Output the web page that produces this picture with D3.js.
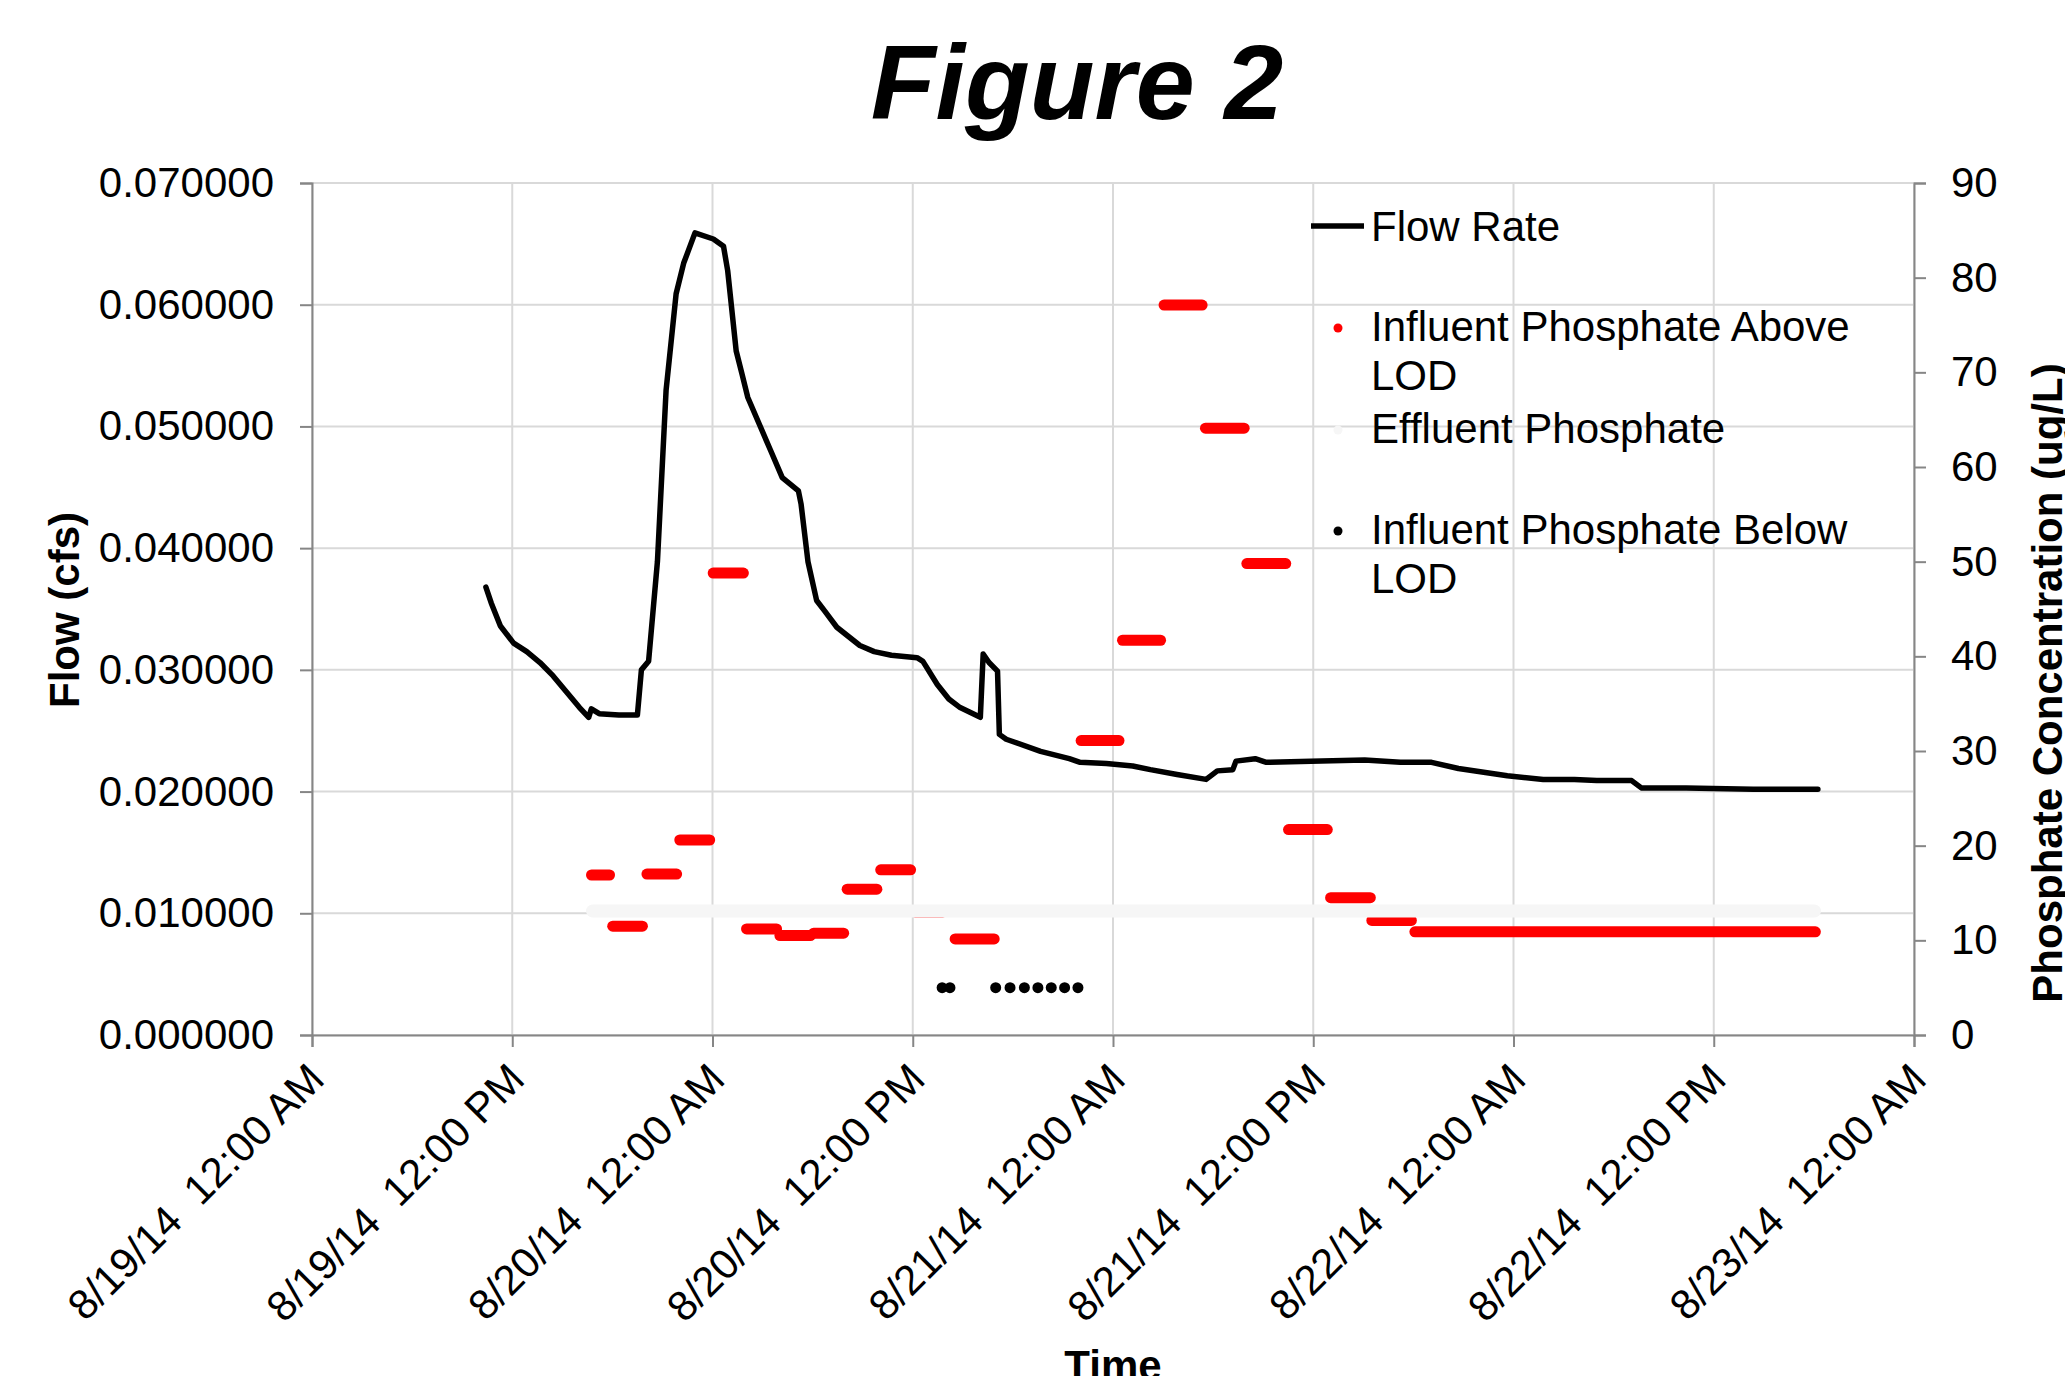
<!DOCTYPE html>
<html>
<head>
<meta charset="utf-8">
<title>Figure 2</title>
<script src="https://cdn.jsdelivr.net/npm/d3@7"></script>
<style>
  body { margin: 0; background: #fff; }
  text { font-family: "Liberation Sans", Arial, sans-serif; }
</style>
</head>
<body>
<div id="chart"></div>
<script>
// Flow rate record (hours after 8/19/14 12:00 AM, cfs)
const flowHours = [10.42, 10.74, 11.29, 12.08, 12.87, 13.66, 14.45, 15.24, 16.03, 16.58, 16.74, 17.21, 18.39, 19.5,
  19.74, 20.17, 20.7, 21.22, 21.82, 22.27, 22.95, 24.05, 24.66, 24.91, 25.42, 25.77, 26.11, 26.8, 27.49, 28.18,
  29.15, 29.31, 29.72, 30.24, 30.74, 31.45, 32.83, 33.69, 34.72, 36.26, 36.61, 37.47, 38.16, 38.84, 40.05, 40.22,
  40.57, 41.08, 41.19, 41.6, 43.66, 45.38, 46.03, 47.6, 49.18, 50.24, 51.84, 53.58, 54.25, 55.18, 55.37, 56.52,
  57.19, 59.86, 63.08, 65.22, 67.09, 68.7, 71.63, 73.78, 75.65, 76.99, 79.08, 79.66, 82.34, 86.36, 90.24];
const flowCfs = [0.0368, 0.0355, 0.0336, 0.0322, 0.0315, 0.0306, 0.0295, 0.0282, 0.0269, 0.0261, 0.0268, 0.0264, 0.0263, 0.0263,
  0.0300, 0.0307, 0.0389, 0.0530, 0.0609, 0.0634, 0.0659, 0.0654, 0.0648, 0.0628, 0.0562, 0.0543, 0.0524, 0.0502, 0.0480, 0.0458,
  0.0447, 0.0436, 0.0389, 0.0357, 0.0348, 0.0335, 0.0320, 0.0315, 0.0312, 0.0310, 0.0307, 0.0288, 0.0276, 0.0269, 0.0261, 0.0313,
  0.0306, 0.0299, 0.0247, 0.0243, 0.0233, 0.0227, 0.0224, 0.0223, 0.0221, 0.0218, 0.0214, 0.0210, 0.0217, 0.0218, 0.0225, 0.0227,
  0.0224, 0.0225, 0.0226, 0.0224, 0.0224, 0.0219, 0.0213, 0.0210, 0.0210, 0.0209, 0.0209, 0.0203, 0.0203, 0.0202, 0.0202];

// Influent phosphate above LOD: composite periods (start/end hours) and concentration (ug/L)
const aboveStartHours = [16.75, 18.02, 20.07, 22.04, 24.04, 26.04, 28.04, 30.06, 32.07, 34.08, 36.14, 38.54,
  46.09, 48.57, 51.06, 53.54, 56.02, 58.52, 61.04, 63.51, 66.09];
const aboveEndHours = [17.83, 19.8, 21.85, 23.83, 25.85, 27.84, 29.87, 31.86, 33.85, 35.87, 37.8, 40.88,
  48.36, 50.85, 53.34, 55.86, 58.35, 60.84, 63.42, 65.88, 90.09];
const aboveValues = [16.9, 11.5, 17.0, 20.6, 48.8, 11.2, 10.5, 10.75, 15.4, 17.45, 13.0, 10.15,
  31.1, 41.7, 77.1, 64.1, 49.8, 21.7, 14.5, 12.1, 10.9];

// Influent phosphate below LOD (plotted at 5 ug/L)
const belowHours = [37.76, 38.23, 40.97, 41.83, 42.69, 43.5, 44.3, 45.1, 45.9];
const belowValues = [5, 5, 5, 5, 5, 5, 5, 5, 5];

// Effluent phosphate
const effluentHours = [16.81, 90.04];
const effluentValues = [13.1, 13.1];

const flowTicks = [0, 0.01, 0.02, 0.03, 0.04, 0.05, 0.06, 0.07];
const concTicks = [0, 10, 20, 30, 40, 50, 60, 70, 80, 90];

const W = 2065, H = 1376;
const pLeft = 312, pRight = 1914, pTop = 183, pBottom = 1035;
const start = new Date(2014, 7, 19, 0, 0);
const toDate = h => new Date(start.getTime() + h * 3600 * 1000);

const svg = d3.select("#chart").append("svg")
  .attr("width", W).attr("height", H)
  .style("display", "block");

const x = d3.scaleTime().domain([start, new Date(2014, 7, 23, 0, 0)]).range([pLeft, pRight]);
const yFlow = d3.scaleLinear().domain([0, 0.07]).range([pBottom, pTop]);
const yConc = d3.scaleLinear().domain([0, 90]).range([pBottom, pTop]);
const xTicks = x.ticks(d3.timeHour.every(12));

// gridlines
svg.append("g").selectAll("line").data(flowTicks).join("line")
  .attr("x1", pLeft).attr("x2", pRight)
  .attr("y1", d => yFlow(d)).attr("y2", d => yFlow(d))
  .attr("stroke", "#d9d9d9").attr("stroke-width", 2);
svg.append("g").selectAll("line").data(xTicks).join("line")
  .attr("x1", d => x(d)).attr("x2", d => x(d))
  .attr("y1", pTop).attr("y2", pBottom)
  .attr("stroke", "#d9d9d9").attr("stroke-width", 2);

// axes
const axisColor = "#868686";
const fmtTime = d3.timeFormat("%-m/%-d/%y  %-I:%M %p");

const gx = svg.append("g").attr("transform", `translate(0,${pBottom})`)
  .call(d3.axisBottom(x).tickValues(xTicks).tickSize(12).tickFormat(""));
const gl = svg.append("g").attr("transform", `translate(${pLeft},0)`)
  .call(d3.axisLeft(yFlow).tickValues(flowTicks).tickSize(12).tickFormat(d3.format(".6f")).tickPadding(26));
const gr = svg.append("g").attr("transform", `translate(${pRight},0)`)
  .call(d3.axisRight(yConc).tickValues(concTicks).tickSize(12).tickPadding(25));

[gx, gl, gr].forEach(g => {
  g.select(".domain").attr("stroke", axisColor).attr("stroke-width", 2);
  g.selectAll(".tick line").attr("stroke", axisColor).attr("stroke-width", 2);
  g.selectAll("text").attr("font-size", 42).attr("fill", "#000")
    .style("font-family", '"Liberation Sans", Arial, sans-serif');
});

// rotated time labels
svg.append("g").selectAll("text").data(xTicks).join("text")
  .attr("transform", d => `translate(${x(d) + 4},${pBottom + 36}) rotate(-45)`)
  .attr("text-anchor", "end")
  .attr("dy", "0.35em")
  .attr("font-size", 42)
  .style("white-space", "pre")
  .text(d => fmtTime(d));

// influent phosphate above LOD
svg.append("g").selectAll("line").data(aboveValues).join("line")
  .attr("x1", (d, i) => x(toDate(aboveStartHours[i])))
  .attr("x2", (d, i) => x(toDate(aboveEndHours[i])))
  .attr("y1", d => yConc(d)).attr("y2", d => yConc(d))
  .attr("stroke", "#ff0000").attr("stroke-width", 11)
  .attr("stroke-linecap", "round");

// effluent phosphate
svg.append("path")
  .datum(effluentHours.map((h, i) => [h, effluentValues[i]]))
  .attr("d", d3.line().x(d => x(toDate(d[0]))).y(d => yConc(d[1])))
  .attr("fill", "none").attr("stroke", "#f6f6f6").attr("stroke-width", 13)
  .attr("stroke-linecap", "round");

// influent phosphate below LOD
svg.append("g").selectAll("circle").data(belowHours).join("circle")
  .attr("cx", d => x(toDate(d)))
  .attr("cy", (d, i) => yConc(belowValues[i]))
  .attr("r", 5.5).attr("fill", "#000");

// flow rate
svg.append("path")
  .datum(flowHours.map((h, i) => [h, flowCfs[i]]))
  .attr("d", d3.line().x(d => x(toDate(d[0]))).y(d => yFlow(d[1])))
  .attr("fill", "none").attr("stroke", "#000").attr("stroke-width", 5.5)
  .attr("stroke-linejoin", "round").attr("stroke-linecap", "round");

// titles
svg.append("text").attr("x", 1077).attr("y", 119)
  .attr("text-anchor", "middle").attr("font-size", 106)
  .attr("font-weight", "bold").attr("font-style", "italic")
  .text("Figure 2");

svg.append("text").attr("transform", "translate(79,610) rotate(-90)")
  .attr("text-anchor", "middle").attr("font-size", 42).attr("font-weight", "bold")
  .text("Flow (cfs)");

svg.append("text").attr("transform", "translate(2062,683) rotate(-90)")
  .attr("text-anchor", "middle").attr("font-size", 42).attr("font-weight", "bold")
  .text("Phosphate Concentration (ug/L)");

svg.append("text").attr("x", (pLeft + pRight) / 2).attr("y", 1380)
  .attr("text-anchor", "middle").attr("font-size", 42).attr("font-weight", "bold")
  .text("Time");

// legend
const legend = svg.append("g").attr("font-size", 42);
legend.append("line").attr("x1", 1311).attr("x2", 1364).attr("y1", 226).attr("y2", 226)
  .attr("stroke", "#000").attr("stroke-width", 5.5);
legend.append("text").attr("x", 1371).attr("y", 241).text("Flow Rate");

legend.append("circle").attr("cx", 1338).attr("cy", 328).attr("r", 4.5).attr("fill", "#ff0000");
legend.append("text").attr("x", 1371).attr("y", 341).text("Influent Phosphate Above");
legend.append("text").attr("x", 1371).attr("y", 390).text("LOD");

legend.append("circle").attr("cx", 1338).attr("cy", 430).attr("r", 4.5).attr("fill", "#f6f6f6");
legend.append("text").attr("x", 1371).attr("y", 443).text("Effluent Phosphate");

legend.append("circle").attr("cx", 1338).attr("cy", 531).attr("r", 4.5).attr("fill", "#000");
legend.append("text").attr("x", 1371).attr("y", 544).text("Influent Phosphate Below");
legend.append("text").attr("x", 1371).attr("y", 593).text("LOD");
</script>
</body>
</html>
